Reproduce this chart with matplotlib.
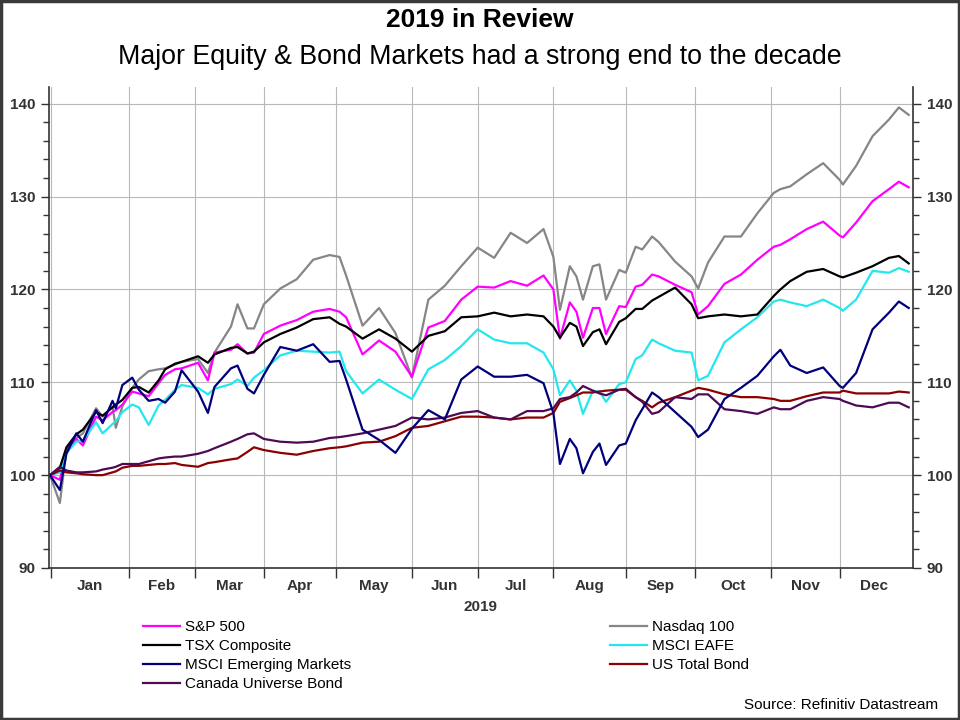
import matplotlib
matplotlib.use("Agg")
import matplotlib.pyplot as plt
import numpy as np
import pandas as pd
from matplotlib.ticker import MultipleLocator, FixedLocator, NullFormatter
from matplotlib.patches import Rectangle

plt.rcParams['font.family'] = ['Liberation Sans', 'DejaVu Sans']

# ---------------- data (weekday index from 31 Dec 2018, rebased to 100) -------------
bday_idx = [0, 3, 5, 8, 10, 14, 16, 19, 20, 22, 25, 27, 30, 33, 35,
            38, 40, 45, 48, 50, 55, 57, 60, 62, 65, 70, 75, 80, 85, 88,
            90, 95, 100, 105, 110, 115, 120, 125, 130, 135, 140, 145, 150, 153, 155,
            158, 160, 162, 165, 167, 169, 173, 175, 178, 180, 183, 185, 190, 195, 197,
            200, 205, 210, 215, 220, 222, 225, 230, 235, 240, 241, 245, 250, 255, 258,
            261]

sp500 = [100, 99.5, 102.7, 103.9, 103.2, 106.3, 105.9, 106.8, 107, 107.6,
         109, 108.8, 108.5, 109.9, 110.8, 111.4, 111.5, 112.1, 110.2, 113.2,
         113.5, 114.1, 113.1, 113.2, 115.2, 116.1, 116.7, 117.6, 117.9, 117.6,
         117, 113, 114.5, 113.3, 110.6, 115.9, 116.6, 118.9, 120.3, 120.2,
         120.9, 120.4, 121.5, 120, 114.7, 118.6, 117.6, 114.8, 118, 118,
         115.2, 118.2, 118.1, 120.3, 120.5, 121.6, 121.4, 120.5, 119.7, 117.3,
         118.2, 120.6, 121.6, 123.2, 124.6, 124.8, 125.4, 126.5, 127.3, 125.8,
         125.6, 127.2, 129.5, 130.8, 131.6, 131]

nasdaq100 = [100, 97, 102.7, 104, 104.5, 107.2, 106.3, 107.4, 105.1, 107.4,
             109.4, 110.3, 111.2, 111.4, 111.5, 111.9, 112.2, 112.5, 111, 113.2,
             116, 118.4, 115.8, 115.8, 118.4, 120.1, 121.1, 123.2, 123.7, 123.5,
             121.5, 116.1, 118, 115.3, 110.5, 118.9, 120.4, 122.5, 124.5, 123.4,
             126.1, 125, 126.5, 123.5, 117.8, 122.5, 121.4, 118.9, 122.5, 122.7,
             118.9, 122.1, 121.8, 124.6, 124.3, 125.7, 125.1, 123, 121.4, 120.1,
             122.9, 125.7, 125.7, 128.2, 130.4, 130.8, 131.1, 132.4, 133.6, 131.8,
             131.3, 133.3, 136.5, 138.3, 139.6, 138.8]

tsx = [100, 100.8, 103, 104.4, 104.9, 106.8, 106.4, 107.3, 107.6, 108.1,
       109.4, 109.5, 108.9, 110.2, 111.4, 112, 112.2, 112.8, 112.1, 113,
       113.7, 113.8, 113.1, 113.3, 114.3, 115.2, 115.9, 116.8, 117, 116.3,
       116, 114.7, 115.7, 114.7, 113.3, 115, 115.5, 117, 117.1, 117.5,
       117.1, 117.3, 117.1, 116, 114.8, 116.4, 116, 113.9, 115.4, 115.7,
       114.1, 116.5, 116.9, 117.9, 117.9, 118.8, 119.2, 120.2, 118.4, 116.9,
       117.1, 117.3, 117.1, 117.3, 119.3, 120, 120.9, 121.9, 122.2, 121.4,
       121.3, 121.8, 122.5, 123.4, 123.6, 122.8]

eafe = [100, 100.3, 102.4, 103.6, 103.7, 105.7, 104.5, 105.5, 105.8, 106.8,
        107.6, 107.3, 105.4, 107.5, 108.1, 109.2, 109.7, 109.4, 108.7, 109.3,
        109.8, 110.3, 109.6, 110.5, 111.3, 112.9, 113.4, 113.3, 113.2, 113.3,
        111.2, 108.8, 110.3, 109.2, 108.2, 111.4, 112.4, 113.9, 115.7, 114.6,
        114.2, 114.2, 113.2, 111.4, 108.6, 110.2, 109.1, 106.6, 109.1, 109,
        107.9, 109.8, 110, 112.5, 112.9, 114.6, 114.2, 113.4, 113.2, 110.2,
        110.7, 114.3, 115.7, 117, 118.7, 118.9, 118.6, 118.2, 118.9, 118,
        117.7, 118.9, 122, 121.8, 122.3, 121.9]

em = [100, 98.4, 102.3, 104.5, 103.6, 107, 105.6, 108, 107.2, 109.7,
      110.5, 109.2, 108, 108.2, 107.8, 109, 111.3, 109, 106.7, 109.5,
      111.5, 111.8, 109.3, 108.8, 110.8, 113.8, 113.4, 114.1, 112.2, 112.3,
      110.3, 104.9, 103.8, 102.4, 105, 107, 106, 110.3, 111.7, 110.6,
      110.6, 110.8, 109.9, 106.7, 101.2, 103.9, 102.9, 100.2, 102.5, 103.4,
      101.1, 103.2, 103.4, 105.9, 107.1, 108.9, 108.4, 106.8, 105.2, 104.1,
      104.9, 108.2, 109.4, 110.7, 112.8, 113.5, 111.8, 111, 111.6, 109.6,
      109.4, 111, 115.7, 117.5, 118.7, 118]

us_bond = [100, 100.5, 100.3, 100.2, 100.1, 100, 100, 100.3, 100.4, 100.8,
           101, 101, 101.1, 101.2, 101.2, 101.3, 101.1, 100.9, 101.3, 101.4,
           101.7, 101.8, 102.5, 103, 102.7, 102.4, 102.2, 102.6, 102.9, 103,
           103.1, 103.5, 103.6, 104.2, 105.1, 105.3, 105.8, 106.3, 106.3, 106.2,
           106, 106.2, 106.2, 106.7, 107.9, 108.3, 108.6, 108.9, 108.9, 109,
           109.1, 109.2, 109.2, 108.4, 108, 107.3, 107.8, 108.4, 109.1, 109.4,
           109.2, 108.7, 108.4, 108.4, 108.2, 108, 108, 108.5, 108.9, 108.9,
           109.1, 108.8, 108.8, 108.8, 109, 108.9]

can_bond = [100, 100.9, 100.5, 100.3, 100.3, 100.4, 100.6, 100.8, 100.9, 101.2,
            101.2, 101.2, 101.5, 101.8, 101.9, 102, 102, 102.3, 102.6, 102.9,
            103.6, 103.9, 104.4, 104.5, 103.9, 103.6, 103.5, 103.6, 104, 104.1,
            104.2, 104.5, 104.9, 105.3, 106.2, 106, 106.2, 106.7, 106.9, 106.2,
            106, 106.9, 106.9, 107.2, 108.2, 108.4, 108.9, 109.6, 109.1, 108.8,
            108.6, 109.2, 109.3, 108.4, 107.9, 106.6, 106.8, 108.4, 108.2, 108.7,
            108.7, 107.1, 106.9, 106.6, 107.3, 107.1, 107.1, 108, 108.4, 108.2,
            108, 107.5, 107.3, 107.8, 107.8, 107.3]

series_names = ['S&P 500', 'Nasdaq 100', 'TSX Composite', 'MSCI EAFE',
                'MSCI Emerging Markets', 'US Total Bond', 'Canada Universe Bond']
series_values = [sp500, nasdaq100, tsx, eafe, em, us_bond, can_bond]
month_labels = ['Jan', 'Feb', 'Mar', 'Apr', 'May', 'Jun', 'Jul', 'Aug', 'Sep', 'Oct', 'Nov', 'Dec']
y_ticks = [90, 100, 110, 120, 130, 140]

for v in series_values:
    assert len(v) == len(bday_idx)

# ---------------- style -------------
colors = {'S&P 500': '#FF00FF', 'Nasdaq 100': '#868686', 'TSX Composite': '#000000',
          'MSCI EAFE': '#22E8EE', 'MSCI Emerging Markets': '#00007A',
          'US Total Bond': '#8B0000', 'Canada Universe Bond': '#4E0A55'}
draw_order = ['Nasdaq 100', 'S&P 500', 'MSCI EAFE', 'TSX Composite', 'US Total Bond',
              'Canada Universe Bond', 'MSCI Emerging Markets']

W, H = 960, 720
fig = plt.figure(figsize=(W / 100, H / 100), dpi=100)
fig.patch.set_facecolor('white')
ax = fig.add_axes([49 / W, 1 - 568 / H, (913 - 49) / W, (568 - 87) / H])

lines = {}
for name in draw_order:
    vals = series_values[series_names.index(name)]
    ln, = ax.plot(bday_idx, vals, color=colors[name], lw=1.6, label=name, solid_joinstyle='round')
    lines[name] = ln

# x axis: weekday calendar of 2019
bdays = pd.bdate_range('2018-12-31', '2019-12-31')
month_start = [int(np.where((bdays.year == 2019) & (bdays.month == m))[0][0]) for m in range(1, 13)]
month_start[0] = 0.4
edges = month_start + [len(bdays) - 1]
centers = [(edges[i] + edges[i + 1]) / 2 for i in range(12)]

ax.set_xlim(-0.3, 262.3)
ax.set_ylim(90, 141.8)
ax.xaxis.set_major_locator(FixedLocator(month_start))
ax.xaxis.set_major_formatter(NullFormatter())
ax.xaxis.set_minor_locator(FixedLocator(centers))
ax.set_xticklabels(month_labels, minor=True, fontweight='bold', fontsize=11, color='#333333')
ax.tick_params(axis='x', which='major', direction='out', length=7, width=1, color='#333333')
ax.tick_params(axis='x', which='minor', length=0, pad=8)

ax.set_yticks(y_ticks)
ax.set_yticklabels([str(v) for v in y_ticks], fontweight='bold', fontsize=11, color='#333333')
ax.yaxis.set_minor_locator(MultipleLocator(2))
ax.tick_params(axis='y', which='both', left=True, right=True, labelleft=True, labelright=True,
               direction='out', color='#333333', width=1)
ax.tick_params(axis='y', which='major', length=6, pad=4)
ax.tick_params(axis='y', which='minor', length=4)

ax.grid(True, which='major', axis='both', color='#b8b8b8', lw=0.8)
ax.set_axisbelow(True)
ax.spines['top'].set_visible(False)
for s in ['left', 'right', 'bottom']:
    ax.spines[s].set_color('#333333')
    ax.spines[s].set_linewidth(1.2)

fig.text(0.5, 1 - 607 / H, '2019', ha='center', va='center', fontsize=11, fontweight='bold',
         color='#333333')

# titles
fig.text(0.5, 1 - 20 / H, '2019 in Review', ha='center', va='center', fontsize=19, fontweight='bold')
fig.text(0.5, 1 - 57 / H, 'Major Equity & Bond Markets had a strong end to the decade',
         ha='center', va='center', fontsize=19.3)

# legends (two columns)
leg_font = {'family': ['Liberation Sans', 'DejaVu Sans'], 'size': 11}
col1 = ['S&P 500', 'TSX Composite', 'MSCI Emerging Markets', 'Canada Universe Bond']
col2 = ['Nasdaq 100', 'MSCI EAFE', 'US Total Bond']
for names, xpos in [(col1, 143), (col2, 610)]:
    lg = fig.legend([lines[n] for n in names], names, loc='upper left',
                    bbox_to_anchor=(xpos / W, 1 - 620 / H), frameon=False, prop=leg_font,
                    handlelength=2.45, handletextpad=0.33, labelspacing=0.33, borderpad=0,
                    borderaxespad=0)

fig.text(938 / W, 1 - 705 / H, 'Source: Refinitiv Datastream', ha='right', va='center',
         fontsize=11)

# outer frame
fig.patches.append(Rectangle((0.001, 0.001), 0.998, 0.998, transform=fig.transFigure,
                             fill=False, edgecolor='#3a3a3a', lw=2.5))

fig.savefig('out.png', dpi=100)
